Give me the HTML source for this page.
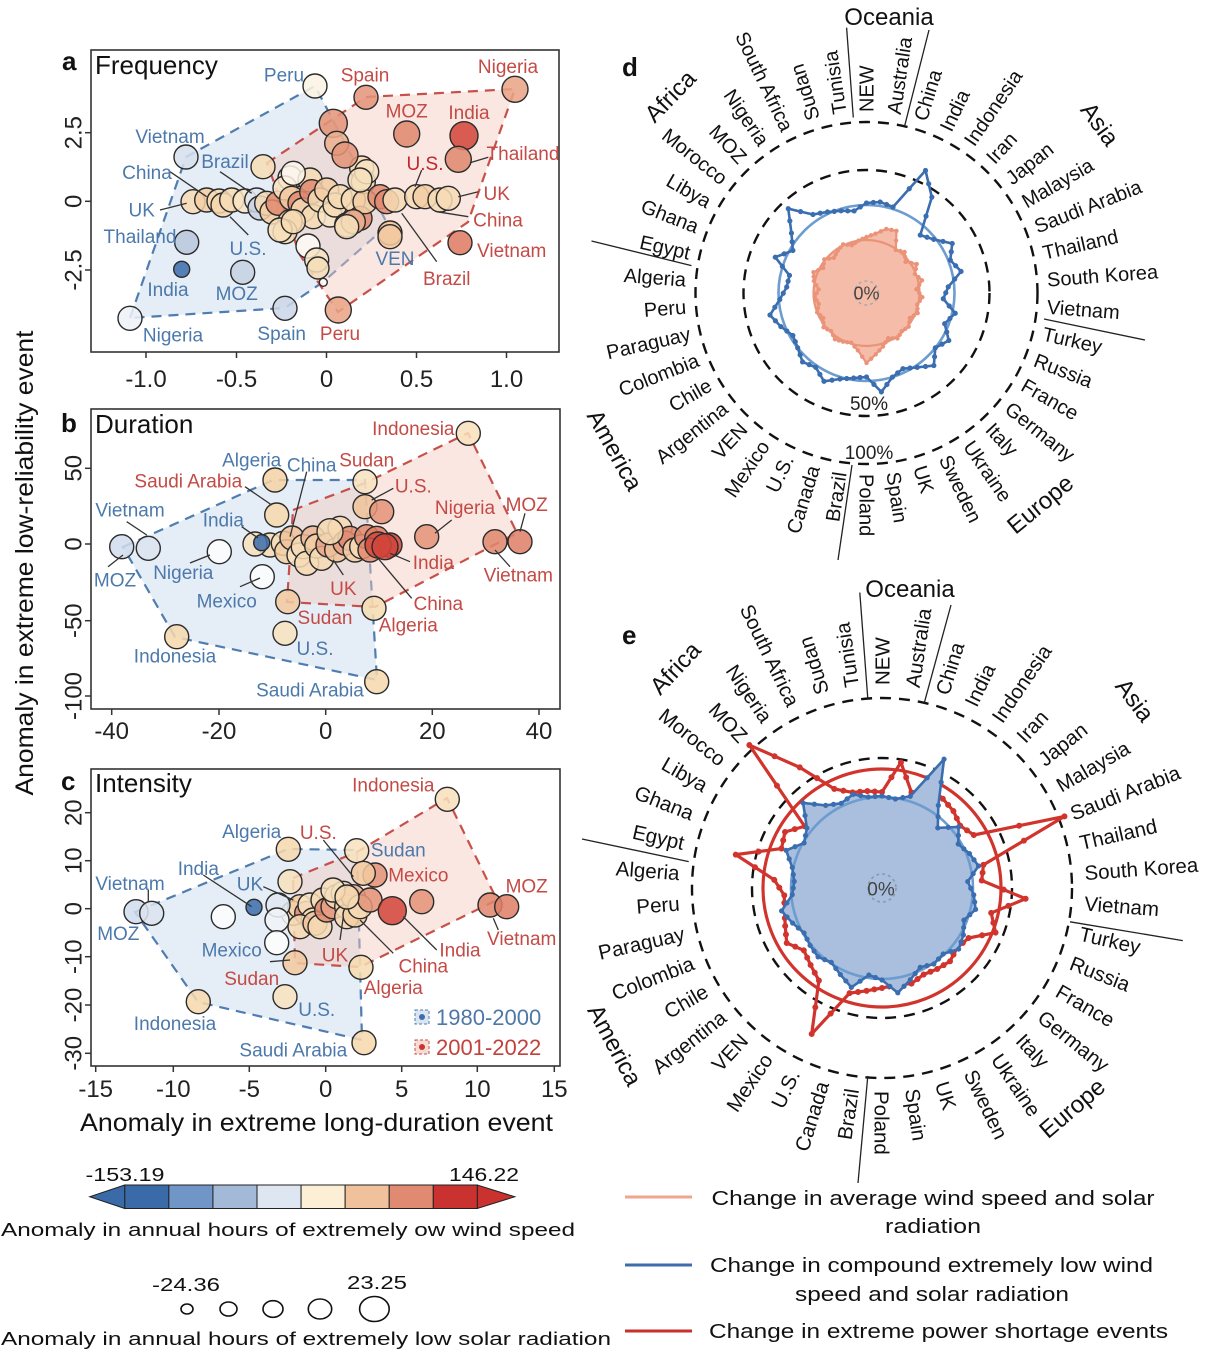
<!DOCTYPE html>
<html>
<head>
<meta charset="utf-8">
<style>
html,body{margin:0;padding:0;background:#fff;}
svg{display:block;}
text{font-family:"Liberation Sans",Arial,sans-serif;}
.tk{font-size:24px;fill:#222;}
.lb{font-size:19px;text-anchor:middle;}
.bl{fill:#4c79ab;}
.rd{fill:#c44a45;}
.pt circle{stroke:#2b2b2b;stroke-width:1.4;fill-opacity:.86;}
.ld line{stroke:#333;stroke-width:1.3;}
.cd{font-size:20px;fill:#111;}
.ce{font-size:20.5px;fill:#111;}
.rg{font-size:24px;fill:#111;text-anchor:middle;}
</style>
</head>
<body>
<svg width="1217" height="1363" viewBox="0 0 1217 1363" xmlns="http://www.w3.org/2000/svg">
<defs>
<marker id="mP" markerWidth="8" markerHeight="8" refX="4" refY="4" markerUnits="userSpaceOnUse"><circle cx="4" cy="4" r="2.2" fill="#eb9378"/></marker>
<marker id="mB" markerWidth="8" markerHeight="8" refX="4" refY="4" markerUnits="userSpaceOnUse"><circle cx="4" cy="4" r="2.6" fill="#3a6eb0"/></marker>
<marker id="mR" markerWidth="8" markerHeight="8" refX="4" refY="4" markerUnits="userSpaceOnUse"><circle cx="4" cy="4" r="3" fill="#d0342c"/></marker>
</defs>
<rect width="1217" height="1363" fill="#fff"/>

<!-- ================= PANEL A ================= -->
<polygon points="130,318 186,157 315,86 388,225 323,282 285,308" fill="#c5d6ea" fill-opacity=".45" stroke="#4f7db0" stroke-width="2.2" stroke-dasharray="10 7"/>
<polygon points="267,163 366,97 515,89 468,222 338,312 300,255" fill="#f3c9bf" fill-opacity=".45" stroke="#c9504a" stroke-width="2.2" stroke-dasharray="10 7"/>
<g class="pt">
<circle cx="193" cy="201.7" r="12" fill="#f6dbb4"/>
<circle cx="206.7" cy="200" r="12" fill="#f3cea4"/>
<circle cx="219" cy="201" r="12" fill="#f6dbb4"/>
<circle cx="223" cy="205" r="12" fill="#f4d5ae"/>
<circle cx="231.7" cy="200" r="12" fill="#f6dbb4"/>
<circle cx="245" cy="201" r="12" fill="#f8e4c4"/>
<circle cx="256.7" cy="200" r="12" fill="#dfe6f0"/>
<circle cx="260" cy="208" r="12" fill="#c8d3e4"/>
<circle cx="266.7" cy="203.3" r="12" fill="#f6dbb4"/>
<circle cx="272" cy="212" r="12" fill="#f3cea4"/>
<circle cx="278" cy="203.3" r="12" fill="#e28a70"/>
<circle cx="290" cy="178" r="12" fill="#fbf4ea"/>
<circle cx="285" cy="188" r="12" fill="#f8e4c4"/>
<circle cx="291.7" cy="198.3" r="12" fill="#f1c8a0"/>
<circle cx="300" cy="203.3" r="12" fill="#e28a70"/>
<circle cx="303" cy="210" r="12" fill="#f6dbb4"/>
<circle cx="310" cy="180" r="12" fill="#f6dbb4"/>
<circle cx="311.7" cy="191.7" r="12" fill="#e28a70"/>
<circle cx="313.3" cy="216.7" r="12" fill="#f6dbb4"/>
<circle cx="290" cy="221.7" r="12" fill="#f6dbb4"/>
<circle cx="285" cy="231.7" r="12" fill="#f6dbb4"/>
<circle cx="320" cy="200" r="12" fill="#f6dbb4"/>
<circle cx="326.7" cy="190" r="12" fill="#f3cea4"/>
<circle cx="330" cy="215" r="12" fill="#f8e4c4"/>
<circle cx="335" cy="205" r="12" fill="#f6dbb4"/>
<circle cx="340" cy="196.7" r="12" fill="#f6dbb4"/>
<circle cx="346.7" cy="225" r="12" fill="#eeb794"/>
<circle cx="353.3" cy="200" r="12" fill="#f6dbb4"/>
<circle cx="360" cy="218.3" r="12" fill="#e28a70"/>
<circle cx="361.7" cy="168" r="12" fill="#f6dbb4"/>
<circle cx="363.3" cy="181.7" r="12" fill="#f6dbb4"/>
<circle cx="365" cy="201.7" r="12" fill="#f3cea4"/>
<circle cx="380" cy="196.7" r="12" fill="#e28a70"/>
<circle cx="386.7" cy="201.7" r="12" fill="#e28a70"/>
<circle cx="395" cy="200" r="12" fill="#f6dbb4"/>
<circle cx="390" cy="233" r="12" fill="#f0c39b"/>
<circle cx="416.7" cy="196.7" r="12" fill="#f6dbb4"/>
<circle cx="425" cy="196.7" r="12" fill="#f3cea4"/>
<circle cx="440" cy="200" r="12" fill="#f6dbb4"/>
<circle cx="448.3" cy="198.3" r="12" fill="#f6dbb4"/>
</g>
<g class="pt">
<circle cx="315" cy="86" r="12" fill="#fbf3e3"/>
<circle cx="186" cy="157" r="12" fill="#d6e0ee"/>
<circle cx="186.7" cy="242.3" r="12" fill="#b9c7dd"/>
<circle cx="181.7" cy="269.3" r="8" fill="#3d6dac"/>
<circle cx="242.7" cy="272.3" r="12" fill="#c5d1e3"/>
<circle cx="130" cy="318.3" r="12" fill="#eef1f7"/>
<circle cx="285" cy="308.3" r="12" fill="#ccd6e6"/>
<circle cx="308" cy="246" r="12" fill="#fdfaf4"/>
<circle cx="316.7" cy="260" r="12" fill="#f6e3c4"/>
<circle cx="318" cy="268" r="11" fill="#f5deb9"/>
<circle cx="323.3" cy="282.3" r="4" fill="#fff"/>
<circle cx="366" cy="97.3" r="12" fill="#e39478"/>
<circle cx="515" cy="89.3" r="13" fill="#e9a385"/>
<circle cx="406.7" cy="134" r="13" fill="#e0876d"/>
<circle cx="464" cy="135.7" r="14" fill="#d2453a"/>
<circle cx="458.3" cy="159.3" r="13" fill="#e0876d"/>
<circle cx="460" cy="242.7" r="12" fill="#de7a62"/>
<circle cx="338.3" cy="310" r="13" fill="#e9a385"/>
<circle cx="333.3" cy="123.3" r="14" fill="#e39478"/>
<circle cx="336.7" cy="143.3" r="12" fill="#eab08f"/>
<circle cx="345" cy="155" r="13" fill="#e39478"/>
<circle cx="263" cy="166.7" r="12" fill="#f6dcb5"/>
<circle cx="293.3" cy="173.3" r="12" fill="#fbf4ea"/>
<circle cx="366.7" cy="171.7" r="12" fill="#f8e2bf"/>
<circle cx="360" cy="180" r="12" fill="#f7e1bd"/>
<circle cx="280" cy="230" r="12" fill="#f7deb8"/>
<circle cx="293.3" cy="221.7" r="12" fill="#f6dab2"/>
<circle cx="353.3" cy="221.7" r="12" fill="#eab08f"/>
<circle cx="346.7" cy="226.7" r="12" fill="#f7e1bd"/>
<circle cx="390" cy="236.7" r="12" fill="#f2c9a0"/>
</g>
<g class="ld">
<line x1="170" y1="171.7" x2="206.7" y2="196.7"/>
<line x1="220" y1="171.7" x2="251.7" y2="193.3"/>
<line x1="160" y1="210" x2="186.7" y2="203.3"/>
<line x1="248.3" y1="235" x2="230" y2="216.7"/>
<line x1="415" y1="186.7" x2="421.7" y2="170"/>
<line x1="470" y1="162.7" x2="488.3" y2="157.3"/>
<line x1="458.3" y1="196.7" x2="478.3" y2="191.7"/>
<line x1="436.7" y1="211.7" x2="468.3" y2="216.7"/>
<line x1="401.7" y1="213.3" x2="436.7" y2="261.7"/>
</g>
<g class="lb bl">
<text x="284" y="81.5">Peru</text>
<text x="170" y="143">Vietnam</text>
<text x="147" y="179">China</text>
<text x="225" y="168">Brazil</text>
<text x="141.7" y="216.5">UK</text>
<text x="140" y="243">Thailand</text>
<text x="248" y="255">U.S.</text>
<text x="168" y="296">India</text>
<text x="236.7" y="300">MOZ</text>
<text x="173" y="341.5">Nigeria</text>
<text x="281.7" y="340">Spain</text>
<text x="395" y="265">VEN</text>
</g>
<g class="lb rd">
<text x="365" y="81.5">Spain</text>
<text x="508" y="73">Nigeria</text>
<text x="406.7" y="117.5">MOZ</text>
<text x="469" y="119">India</text>
<text x="425" y="170" fill="#c0282d">U.S.</text>
<text x="523" y="160">Thailand</text>
<text x="496.7" y="200">UK</text>
<text x="498" y="226.5">China</text>
<text x="511.7" y="257">Vietnam</text>
<text x="446.7" y="285">Brazil</text>
<text x="340" y="340">Peru</text>
</g>
<rect x="91" y="50" width="468" height="302" fill="none" stroke="#333" stroke-width="1.6"/>
<g stroke="#333" stroke-width="1.5">
<line x1="146" y1="352" x2="146" y2="358"/><line x1="236.5" y1="352" x2="236.5" y2="358"/><line x1="326.5" y1="352" x2="326.5" y2="358"/><line x1="416.5" y1="352" x2="416.5" y2="358"/><line x1="506.5" y1="352" x2="506.5" y2="358"/>
<line x1="85" y1="132.7" x2="91" y2="132.7"/><line x1="85" y1="201.3" x2="91" y2="201.3"/><line x1="85" y1="270" x2="91" y2="270"/>
</g>
<g class="tk" text-anchor="middle">
<text x="146" y="387">-1.0</text><text x="236.5" y="387">-0.5</text><text x="326.5" y="387">0</text><text x="416.5" y="387">0.5</text><text x="506.5" y="387">1.0</text>
<text transform="translate(81.5,132.7) rotate(-90)">2.5</text>
<text transform="translate(81.5,201.3) rotate(-90)">0</text>
<text transform="translate(81.5,270) rotate(-90)">-2.5</text>
</g>
<text x="62" y="70" font-size="26" font-weight="bold" fill="#111">a</text>
<text x="95" y="74" font-size="26" fill="#111">Frequency</text>

<!-- ================= PANEL B ================= -->
<polygon points="123,547 273,480 365,480 377,680 175,637" fill="#c5d6ea" fill-opacity=".45" stroke="#4f7db0" stroke-width="2.2" stroke-dasharray="10 7"/>
<polygon points="293,510 365,483 468,433 517,533 375,607 287,602" fill="#f3c9bf" fill-opacity=".45" stroke="#c9504a" stroke-width="2.2" stroke-dasharray="10 7"/>
<g class="pt">
<circle cx="270" cy="545" r="12" fill="#f6dbb4"/>
<circle cx="283.3" cy="543.3" r="12" fill="#f6dbb4"/>
<circle cx="286.7" cy="551.7" r="12" fill="#f3cea4"/>
<circle cx="292" cy="538" r="12" fill="#f0c39b"/>
<circle cx="299" cy="555" r="12" fill="#f8e4c4"/>
<circle cx="303.3" cy="546.7" r="12" fill="#f6dbb4"/>
<circle cx="306.7" cy="563.3" r="12" fill="#f6dbb4"/>
<circle cx="313" cy="538" r="12" fill="#eeb794"/>
<circle cx="316.7" cy="546" r="12" fill="#f3cea4"/>
<circle cx="321.7" cy="558.3" r="12" fill="#f6dbb4"/>
<circle cx="328" cy="545" r="12" fill="#e9a388"/>
<circle cx="340" cy="528.3" r="12" fill="#f6dbb4"/>
<circle cx="336.7" cy="550" r="12" fill="#f0c39b"/>
<circle cx="345" cy="543" r="12" fill="#e8a084"/>
<circle cx="350" cy="538.3" r="12" fill="#e28a70"/>
<circle cx="355" cy="550" r="12" fill="#f3cea4"/>
<circle cx="361.7" cy="546.7" r="12" fill="#f6dbb4"/>
<circle cx="366.7" cy="536.7" r="12" fill="#e28a70"/>
<circle cx="376.7" cy="538.3" r="12" fill="#e07a62"/>
<circle cx="370" cy="550" r="12" fill="#e28a70"/>
<circle cx="390" cy="545" r="12" fill="#d2453a"/>
</g>
<g class="pt">
<circle cx="121.7" cy="546.7" r="12" fill="#d1dcec"/>
<circle cx="148.3" cy="548.3" r="12" fill="#dbe3ef"/>
<circle cx="219.3" cy="551.7" r="12" fill="#fdfdfd"/>
<circle cx="262.3" cy="576.7" r="12" fill="#fdfdfd"/>
<circle cx="176.7" cy="636.7" r="12" fill="#f6d9ae"/>
<circle cx="285" cy="633.3" r="12" fill="#f8e2bf"/>
<circle cx="376.7" cy="681.7" r="12" fill="#f6d9ae"/>
<circle cx="275" cy="480" r="12" fill="#f4d3a5"/>
<circle cx="365" cy="481.7" r="12" fill="#f8e2bf"/>
<circle cx="276.7" cy="515" r="12" fill="#f6d9ae"/>
<circle cx="468.3" cy="433.3" r="12" fill="#f8e0bb"/>
<circle cx="365" cy="506.7" r="12" fill="#f0c49a"/>
<circle cx="381.7" cy="511.7" r="12" fill="#e39478"/>
<circle cx="426.7" cy="536.7" r="12" fill="#e39478"/>
<circle cx="495" cy="541.7" r="12" fill="#e0876d"/>
<circle cx="520" cy="541.7" r="12" fill="#de7f66"/>
<circle cx="287.7" cy="601.7" r="12" fill="#f2c9a0"/>
<circle cx="374" cy="608.3" r="12" fill="#f6dcb1"/>
<circle cx="330" cy="531.7" r="13" fill="#f6dab2"/>
<circle cx="378" cy="545" r="13" fill="#d54a3c"/>
<circle cx="385" cy="546.7" r="13" fill="#d2453a"/>
<circle cx="255" cy="544" r="12" fill="#f7e1bd"/>
<circle cx="261.7" cy="542.7" r="8" fill="#3d6dac"/>
</g>
<g class="ld">
<line x1="126.7" y1="521.7" x2="146.7" y2="535"/>
<line x1="108" y1="566.7" x2="123" y2="555"/>
<line x1="190" y1="563" x2="210" y2="555"/>
<line x1="240" y1="586.7" x2="260" y2="578"/>
<line x1="241.7" y1="526.7" x2="258" y2="538"/>
<line x1="245" y1="486.7" x2="271.7" y2="505"/>
<line x1="306.7" y1="471.7" x2="290" y2="536.7"/>
<line x1="393.3" y1="488.3" x2="371.7" y2="500"/>
<line x1="451.7" y1="520" x2="435" y2="533.3"/>
<line x1="525" y1="513.3" x2="520" y2="531.7"/>
<line x1="510" y1="566.7" x2="495" y2="550"/>
<line x1="410" y1="561.7" x2="390" y2="553.3"/>
<line x1="343.3" y1="575" x2="333.3" y2="560"/>
<line x1="411.7" y1="598.3" x2="376.7" y2="556.7"/>
</g>
<g class="lb bl">
<text x="130" y="516.5">Vietnam</text>
<text x="115" y="586.5">MOZ</text>
<text x="183.3" y="579">Nigeria</text>
<text x="223.3" y="526.5">India</text>
<text x="251.7" y="466.5">Algeria</text>
<text x="311.7" y="471.5">China</text>
<text x="226.7" y="607.5">Mexico</text>
<text x="175" y="662.5">Indonesia</text>
<text x="315" y="655">U.S.</text>
<text x="310" y="696.5">Saudi Arabia</text>
</g>
<g class="lb rd">
<text x="413.3" y="435">Indonesia</text>
<text x="366.7" y="466.5">Sudan</text>
<text x="188.3" y="487.5">Saudi Arabia</text>
<text x="413.3" y="492.5">U.S.</text>
<text x="465" y="514">Nigeria</text>
<text x="526.7" y="511">MOZ</text>
<text x="433.3" y="569">India</text>
<text x="518.3" y="581.5">Vietnam</text>
<text x="343.3" y="595">UK</text>
<text x="438.3" y="610">China</text>
<text x="325" y="624">Sudan</text>
<text x="408.3" y="631.5">Algeria</text>
</g>
<rect x="91" y="409" width="469" height="300" fill="none" stroke="#333" stroke-width="1.6"/>
<g stroke="#333" stroke-width="1.5">
<line x1="111.7" y1="709" x2="111.7" y2="715"/><line x1="219" y1="709" x2="219" y2="715"/><line x1="325.7" y1="709" x2="325.7" y2="715"/><line x1="432.3" y1="709" x2="432.3" y2="715"/><line x1="539" y1="709" x2="539" y2="715"/>
<line x1="85" y1="468.3" x2="91" y2="468.3"/><line x1="85" y1="544" x2="91" y2="544"/><line x1="85" y1="620.7" x2="91" y2="620.7"/><line x1="85" y1="696" x2="91" y2="696"/>
</g>
<g class="tk" text-anchor="middle">
<text x="111.7" y="739">-40</text><text x="219" y="739">-20</text><text x="325.7" y="739">0</text><text x="432.3" y="739">20</text><text x="539" y="739">40</text>
<text transform="translate(81.5,468.3) rotate(-90)">50</text>
<text transform="translate(81.5,544) rotate(-90)">0</text>
<text transform="translate(81.5,620.7) rotate(-90)">-50</text>
<text transform="translate(81.5,696) rotate(-90)">-100</text>
</g>
<text x="61" y="432" font-size="26" font-weight="bold" fill="#111">b</text>
<text x="95" y="433" font-size="26" fill="#111">Duration</text>

<!-- ================= PANEL C ================= -->
<polygon points="135,912 288,849 357,850 362,1040 198,1002" fill="#c5d6ea" fill-opacity=".45" stroke="#4f7db0" stroke-width="2.2" stroke-dasharray="10 7"/>
<polygon points="293,878 357,852 447,798 497,900 360,967 295,963" fill="#f3c9bf" fill-opacity=".45" stroke="#c9504a" stroke-width="2.2" stroke-dasharray="10 7"/>
<g class="pt">
<circle cx="293.3" cy="913.3" r="12" fill="#f6dbb4"/>
<circle cx="300" cy="906.7" r="12" fill="#f3cea4"/>
<circle cx="306.7" cy="913.3" r="12" fill="#e28a70"/>
<circle cx="310" cy="905" r="12" fill="#f8e4c4"/>
<circle cx="313.3" cy="920" r="12" fill="#f6dbb4"/>
<circle cx="300" cy="926.7" r="12" fill="#f6dbb4"/>
<circle cx="315" cy="923.3" r="12" fill="#f0c39b"/>
<circle cx="320" cy="926.7" r="12" fill="#f6dbb4"/>
<circle cx="323" cy="900" r="12" fill="#f6dbb4"/>
<circle cx="326.7" cy="910" r="12" fill="#e28a70"/>
<circle cx="333" cy="906.7" r="12" fill="#e8a084"/>
<circle cx="336.7" cy="896.7" r="12" fill="#f6dbb4"/>
<circle cx="343.3" cy="893.3" r="12" fill="#f6dbb4"/>
<circle cx="346.7" cy="906.7" r="12" fill="#f6dbb4"/>
<circle cx="346.7" cy="916.7" r="12" fill="#f6dbb4"/>
<circle cx="353.3" cy="896.7" r="12" fill="#eeb794"/>
<circle cx="355" cy="915" r="12" fill="#f3cea4"/>
<circle cx="360" cy="906.7" r="12" fill="#f6dbb4"/>
</g>
<g class="pt">
<circle cx="136" cy="911.7" r="12" fill="#d1dcec"/>
<circle cx="151.7" cy="913.3" r="12" fill="#dbe3ef"/>
<circle cx="223.3" cy="916.7" r="12" fill="#fdfdfd"/>
<circle cx="278" cy="905" r="12" fill="#dfe6f0"/>
<circle cx="277" cy="920" r="12" fill="#f0f3f8"/>
<circle cx="276.7" cy="942.7" r="12" fill="#fdfdfd"/>
<circle cx="288.3" cy="849.3" r="12" fill="#f6d9ae"/>
<circle cx="356.7" cy="850.7" r="12" fill="#f8e2bf"/>
<circle cx="290" cy="881.7" r="12" fill="#f7e1bd"/>
<circle cx="198.3" cy="1001.7" r="12" fill="#f6d9ae"/>
<circle cx="285" cy="996.7" r="12" fill="#f8e2bf"/>
<circle cx="364" cy="1042.7" r="12" fill="#f6d9ae"/>
<circle cx="295" cy="962.7" r="12" fill="#f2c9a0"/>
<circle cx="361" cy="967.3" r="12" fill="#f6dcb1"/>
<circle cx="447.3" cy="799.3" r="12" fill="#f8e0bb"/>
<circle cx="375" cy="875" r="12" fill="#e39478"/>
<circle cx="363.3" cy="873.3" r="12" fill="#f2c9a0"/>
<circle cx="370" cy="900" r="12" fill="#e39478"/>
<circle cx="421.7" cy="901.7" r="12" fill="#e39478"/>
<circle cx="490" cy="905" r="12" fill="#e0876d"/>
<circle cx="506.7" cy="906.7" r="12" fill="#de7f66"/>
<circle cx="333" cy="890" r="12" fill="#f7e1bd"/>
<circle cx="347" cy="897" r="12" fill="#f6dab2"/>
<circle cx="392.3" cy="910.7" r="14" fill="#d2453a"/>
<circle cx="254" cy="907.3" r="8" fill="#3d6dac"/>
</g>
<g class="ld">
<line x1="148.3" y1="890" x2="148.3" y2="901.7"/>
<line x1="203.3" y1="875" x2="251.7" y2="906.7"/>
<line x1="263.3" y1="886.7" x2="293.3" y2="900"/>
<line x1="323.3" y1="840" x2="353.3" y2="876.7"/>
<line x1="436.7" y1="950" x2="403.3" y2="916.7"/>
<line x1="393.3" y1="953.3" x2="360" y2="920"/>
<line x1="340" y1="940" x2="343.3" y2="916.7"/>
<line x1="270" y1="961.7" x2="290" y2="960"/>
<line x1="493.3" y1="918.3" x2="498.3" y2="930"/>
</g>
<g class="lb bl">
<text x="130" y="890">Vietnam</text>
<text x="118.3" y="940">MOZ</text>
<text x="198.3" y="875">India</text>
<text x="251.7" y="838">Algeria</text>
<text x="250" y="890.5">UK</text>
<text x="398.3" y="856.5">Sudan</text>
<text x="231.7" y="956.5">Mexico</text>
<text x="175" y="1030">Indonesia</text>
<text x="316.7" y="1016">U.S.</text>
<text x="293.3" y="1056.5">Saudi Arabia</text>
</g>
<g class="lb rd">
<text x="393.3" y="791.5">Indonesia</text>
<text x="318.3" y="839">U.S.</text>
<text x="418.3" y="881.5">Mexico</text>
<text x="526.7" y="892.5">MOZ</text>
<text x="521.7" y="945">Vietnam</text>
<text x="460" y="956.5">India</text>
<text x="423.3" y="972.5">China</text>
<text x="335" y="961.5">UK</text>
<text x="251.7" y="985">Sudan</text>
<text x="393.3" y="994">Algeria</text>
</g>
<rect x="415" y="1010" width="14" height="14" fill="#dbe5f1" stroke="#4f7db0" stroke-width="1" stroke-dasharray="3 2"/>
<circle cx="422" cy="1017" r="3" fill="#3d6dac"/>
<text x="436" y="1025" font-size="22" fill="#4f78a8">1980-2000</text>
<rect x="415" y="1040" width="14" height="14" fill="#f7dcd6" stroke="#c9504a" stroke-width="1" stroke-dasharray="3 2"/>
<circle cx="422" cy="1047" r="3" fill="#cc3430"/>
<text x="436" y="1055" font-size="22" fill="#c2413c">2001-2022</text>
<rect x="91" y="769" width="469" height="297" fill="none" stroke="#333" stroke-width="1.6"/>
<g stroke="#333" stroke-width="1.5">
<line x1="95.7" y1="1066" x2="95.7" y2="1072"/><line x1="173.3" y1="1066" x2="173.3" y2="1072"/><line x1="249.3" y1="1066" x2="249.3" y2="1072"/><line x1="325.7" y1="1066" x2="325.7" y2="1072"/><line x1="401.7" y1="1066" x2="401.7" y2="1072"/><line x1="477.3" y1="1066" x2="477.3" y2="1072"/><line x1="554.3" y1="1066" x2="554.3" y2="1072"/>
<line x1="85" y1="812.7" x2="91" y2="812.7"/><line x1="85" y1="860.7" x2="91" y2="860.7"/><line x1="85" y1="908.7" x2="91" y2="908.7"/><line x1="85" y1="956.7" x2="91" y2="956.7"/><line x1="85" y1="1005" x2="91" y2="1005"/><line x1="85" y1="1053.3" x2="91" y2="1053.3"/>
</g>
<g class="tk" text-anchor="middle">
<text x="95.7" y="1097">-15</text><text x="173.3" y="1097">-10</text><text x="249.3" y="1097">-5</text><text x="325.7" y="1097">0</text><text x="401.7" y="1097">5</text><text x="477.3" y="1097">10</text><text x="554.3" y="1097">15</text>
<text transform="translate(81.5,812.7) rotate(-90)">20</text>
<text transform="translate(81.5,860.7) rotate(-90)">10</text>
<text transform="translate(81.5,908.7) rotate(-90)">0</text>
<text transform="translate(81.5,956.7) rotate(-90)">-10</text>
<text transform="translate(81.5,1005) rotate(-90)">-20</text>
<text transform="translate(81.5,1053.3) rotate(-90)">-30</text>
</g>
<text x="61" y="790" font-size="26" font-weight="bold" fill="#111">c</text>
<text x="95" y="792" font-size="26" fill="#111">Intensity</text>

<!-- axis titles -->
<text x="80" y="1131" font-size="25" fill="#111" textLength="473" lengthAdjust="spacingAndGlyphs">Anomaly in extreme long-duration event</text>
<text transform="translate(33,563) rotate(-90)" font-size="25" fill="#111" text-anchor="middle" textLength="465" lengthAdjust="spacingAndGlyphs">Anomaly in extreme low-reliability event</text>

<!-- ================= LEFT LEGENDS ================= -->
<g stroke="#222" stroke-width="1">
<polygon points="124.8,1185 124.8,1208.5 89.7,1196.75" fill="#3b6aa9"/>
<rect x="124.8" y="1185" width="44.07" height="23.5" fill="#3b6aa9"/>
<rect x="168.87" y="1185" width="44.07" height="23.5" fill="#6f96c6"/>
<rect x="212.94" y="1185" width="44.07" height="23.5" fill="#a3b9d8"/>
<rect x="257.01" y="1185" width="44.07" height="23.5" fill="#dde6f1"/>
<rect x="301.08" y="1185" width="44.07" height="23.5" fill="#fcefd6"/>
<rect x="345.15" y="1185" width="44.07" height="23.5" fill="#efc29b"/>
<rect x="389.22" y="1185" width="44.07" height="23.5" fill="#e08a72"/>
<rect x="433.29" y="1185" width="44.07" height="23.5" fill="#c9322e"/>
<polygon points="477.36,1185 477.36,1208.5 514.8,1196.75" fill="#c9322e"/>
</g>
<text x="125" y="1181" font-size="18" fill="#111" text-anchor="middle" textLength="79" lengthAdjust="spacingAndGlyphs">-153.19</text>
<text x="484" y="1181" font-size="18" fill="#111" text-anchor="middle" textLength="70" lengthAdjust="spacingAndGlyphs">146.22</text>
<text x="1" y="1236" font-size="18.5" fill="#111" textLength="574" lengthAdjust="spacingAndGlyphs">Anomaly in annual hours of extremely ow wind speed</text>
<text x="186" y="1291" font-size="18" fill="#111" text-anchor="middle" textLength="68" lengthAdjust="spacingAndGlyphs">-24.36</text>
<text x="377" y="1289" font-size="18" fill="#111" text-anchor="middle" textLength="60" lengthAdjust="spacingAndGlyphs">23.25</text>
<g fill="none" stroke="#111" stroke-width="1.6">
<ellipse cx="187" cy="1309" rx="6" ry="5"/>
<ellipse cx="228.5" cy="1309" rx="8.5" ry="7"/>
<ellipse cx="273" cy="1309" rx="10" ry="8.3"/>
<ellipse cx="320" cy="1309" rx="11.7" ry="10"/>
<ellipse cx="374.4" cy="1309" rx="14.8" ry="12.5"/>
</g>
<text x="1" y="1345" font-size="18.5" fill="#111" textLength="610" lengthAdjust="spacingAndGlyphs">Anomaly in annual hours of extremely low solar radiation</text>

<!-- ================= RIGHT LEGEND ================= -->
<line x1="625" y1="1197" x2="692" y2="1197" stroke="#f0a58c" stroke-width="3"/>
<line x1="625" y1="1265" x2="692" y2="1265" stroke="#3e6eaa" stroke-width="3"/>
<line x1="625" y1="1331" x2="692" y2="1331" stroke="#c8302c" stroke-width="3"/>
<g font-size="20" fill="#111" text-anchor="middle">
<text x="933" y="1205" textLength="443" lengthAdjust="spacingAndGlyphs">Change in average wind speed and solar</text>
<text x="933" y="1233" textLength="96" lengthAdjust="spacingAndGlyphs">radiation</text>
<text x="931.5" y="1272" textLength="443" lengthAdjust="spacingAndGlyphs">Change in compound extremely low wind</text>
<text x="932" y="1301" textLength="274" lengthAdjust="spacingAndGlyphs">speed and solar radiation</text>
<text x="938.5" y="1338" textLength="459" lengthAdjust="spacingAndGlyphs">Change in extreme power shortage events</text>
</g>

<!-- ================= RADAR D GEOMETRY ================= -->
<g transform="translate(866.5,293)">
<circle r="171" fill="none" stroke="#111" stroke-width="2.4" stroke-dasharray="11 8"/>
<circle r="123" fill="none" stroke="#111" stroke-width="2.4" stroke-dasharray="11 8"/>
<circle r="53" fill="#f4bca9"/>
<g fill="#f4bca9" stroke="#f4bca9" stroke-width="1" stroke-linejoin="round">
<path transform="rotate(0)" d="M0,0V-56L8.94,-59.33Z"/>
<path transform="rotate(8.571)" d="M0,0V-60L9.99,-66.25Z"/>
<path transform="rotate(17.143)" d="M0,0V-67L10.28,-68.23Z"/>
<path transform="rotate(25.714)" d="M0,0V-69L7.75,-51.42Z"/>
<path transform="rotate(34.286)" d="M0,0V-52L8.35,-55.37Z"/>
<path transform="rotate(42.857)" d="M0,0V-56L7.45,-49.44Z"/>
<path transform="rotate(51.429)" d="M0,0V-50L8.64,-57.35Z"/>
<path transform="rotate(60)" d="M0,0V-58L7.75,-51.42Z"/>
<path transform="rotate(68.571)" d="M0,0V-52L8.5,-56.36Z"/>
<path transform="rotate(77.143)" d="M0,0V-57L7.45,-49.44Z"/>
<path transform="rotate(85.714)" d="M0,0V-50L8.35,-55.37Z"/>
<path transform="rotate(94.286)" d="M0,0V-56L7.75,-51.42Z"/>
<path transform="rotate(102.857)" d="M0,0V-52L8.2,-54.39Z"/>
<path transform="rotate(111.429)" d="M0,0V-55L7.45,-49.44Z"/>
<path transform="rotate(120)" d="M0,0V-50L8.05,-53.4Z"/>
<path transform="rotate(128.571)" d="M0,0V-54L7.75,-51.42Z"/>
<path transform="rotate(137.143)" d="M0,0V-52L8.2,-54.39Z"/>
<path transform="rotate(145.714)" d="M0,0V-55L7.45,-49.44Z"/>
<path transform="rotate(154.286)" d="M0,0V-50L8.35,-55.37Z"/>
<path transform="rotate(162.857)" d="M0,0V-56L9.24,-61.31Z"/>
<path transform="rotate(171.429)" d="M0,0V-62L10.43,-69.22Z"/>
<path transform="rotate(180)" d="M0,0V-70L8.64,-57.35Z"/>
<path transform="rotate(188.571)" d="M0,0V-58L7.75,-51.42Z"/>
<path transform="rotate(197.143)" d="M0,0V-52L8.05,-53.4Z"/>
<path transform="rotate(205.714)" d="M0,0V-54L8.35,-55.37Z"/>
<path transform="rotate(214.286)" d="M0,0V-56L7.75,-51.42Z"/>
<path transform="rotate(222.857)" d="M0,0V-52L8.2,-54.39Z"/>
<path transform="rotate(231.429)" d="M0,0V-55L7.45,-49.44Z"/>
<path transform="rotate(240)" d="M0,0V-50L7.9,-52.41Z"/>
<path transform="rotate(248.571)" d="M0,0V-53L7.3,-48.45Z"/>
<path transform="rotate(257.143)" d="M0,0V-49L7.75,-51.42Z"/>
<path transform="rotate(265.714)" d="M0,0V-52L7.15,-47.46Z"/>
<path transform="rotate(274.286)" d="M0,0V-48L8.05,-53.4Z"/>
<path transform="rotate(282.857)" d="M0,0V-54L8.5,-56.36Z"/>
<path transform="rotate(291.429)" d="M0,0V-57L7.45,-49.44Z"/>
<path transform="rotate(300)" d="M0,0V-50L8.05,-53.4Z"/>
<path transform="rotate(308.571)" d="M0,0V-54L7.15,-47.46Z"/>
<path transform="rotate(317.143)" d="M0,0V-48L7.6,-50.43Z"/>
<path transform="rotate(325.714)" d="M0,0V-51L8.05,-53.4Z"/>
<path transform="rotate(334.286)" d="M0,0V-54L7.45,-49.44Z"/>
<path transform="rotate(342.857)" d="M0,0V-50L7.9,-52.41Z"/>
<path transform="rotate(351.429)" d="M0,0V-53L8.35,-55.37Z"/>
</g>
<circle r="53" fill="none" stroke="#eb9378" stroke-width="2.2"/>
<g fill="none" stroke="#eb9378" stroke-width="2.2" stroke-linecap="round" stroke-linejoin="round" marker-start="url(#mP)" marker-mid="url(#mP)">
<path transform="rotate(0)" d="M0,-56L4.47,-57.67L8.94,-59.33"/>
<path transform="rotate(8.571)" d="M0,-60L4.99,-63.13L9.99,-66.25"/>
<path transform="rotate(17.143)" d="M0,-67L5.14,-67.62L10.28,-68.23"/>
<path transform="rotate(25.714)" d="M0,-69L3.88,-60.21L7.75,-51.42"/>
<path transform="rotate(34.286)" d="M0,-52L4.17,-53.69L8.35,-55.37"/>
<path transform="rotate(42.857)" d="M0,-56L3.73,-52.72L7.45,-49.44"/>
<path transform="rotate(51.429)" d="M0,-50L4.32,-53.68L8.64,-57.35"/>
<path transform="rotate(60)" d="M0,-58L3.88,-54.71L7.75,-51.42"/>
<path transform="rotate(68.571)" d="M0,-52L4.25,-54.18L8.5,-56.36"/>
<path transform="rotate(77.143)" d="M0,-57L3.73,-53.22L7.45,-49.44"/>
<path transform="rotate(85.714)" d="M0,-50L4.17,-52.69L8.35,-55.37"/>
<path transform="rotate(94.286)" d="M0,-56L3.88,-53.71L7.75,-51.42"/>
<path transform="rotate(102.857)" d="M0,-52L4.1,-53.2L8.2,-54.39"/>
<path transform="rotate(111.429)" d="M0,-55L3.73,-52.22L7.45,-49.44"/>
<path transform="rotate(120)" d="M0,-50L4.02,-51.7L8.05,-53.4"/>
<path transform="rotate(128.571)" d="M0,-54L3.88,-52.71L7.75,-51.42"/>
<path transform="rotate(137.143)" d="M0,-52L4.1,-53.2L8.2,-54.39"/>
<path transform="rotate(145.714)" d="M0,-55L3.73,-52.22L7.45,-49.44"/>
<path transform="rotate(154.286)" d="M0,-50L4.17,-52.69L8.35,-55.37"/>
<path transform="rotate(162.857)" d="M0,-56L4.62,-58.66L9.24,-61.31"/>
<path transform="rotate(171.429)" d="M0,-62L5.22,-65.61L10.43,-69.22"/>
<path transform="rotate(180)" d="M0,-70L4.32,-63.68L8.64,-57.35"/>
<path transform="rotate(188.571)" d="M0,-58L3.88,-54.71L7.75,-51.42"/>
<path transform="rotate(197.143)" d="M0,-52L4.02,-52.7L8.05,-53.4"/>
<path transform="rotate(205.714)" d="M0,-54L4.17,-54.69L8.35,-55.37"/>
<path transform="rotate(214.286)" d="M0,-56L3.88,-53.71L7.75,-51.42"/>
<path transform="rotate(222.857)" d="M0,-52L4.1,-53.2L8.2,-54.39"/>
<path transform="rotate(231.429)" d="M0,-55L3.73,-52.22L7.45,-49.44"/>
<path transform="rotate(240)" d="M0,-50L3.95,-51.21L7.9,-52.41"/>
<path transform="rotate(248.571)" d="M0,-53L3.65,-50.73L7.3,-48.45"/>
<path transform="rotate(257.143)" d="M0,-49L3.88,-50.21L7.75,-51.42"/>
<path transform="rotate(265.714)" d="M0,-52L3.58,-49.73L7.15,-47.46"/>
<path transform="rotate(274.286)" d="M0,-48L4.02,-50.7L8.05,-53.4"/>
<path transform="rotate(282.857)" d="M0,-54L4.25,-55.18L8.5,-56.36"/>
<path transform="rotate(291.429)" d="M0,-57L3.73,-53.22L7.45,-49.44"/>
<path transform="rotate(300)" d="M0,-50L4.02,-51.7L8.05,-53.4"/>
<path transform="rotate(308.571)" d="M0,-54L3.58,-50.73L7.15,-47.46"/>
<path transform="rotate(317.143)" d="M0,-48L3.8,-49.22L7.6,-50.43"/>
<path transform="rotate(325.714)" d="M0,-51L4.02,-52.2L8.05,-53.4"/>
<path transform="rotate(334.286)" d="M0,-54L3.73,-51.72L7.45,-49.44"/>
<path transform="rotate(342.857)" d="M0,-50L3.95,-51.21L7.9,-52.41"/>
<path transform="rotate(351.429)" d="M0,-53L4.17,-54.19L8.35,-55.37"/>
</g>
<circle r="88" fill="none" stroke="#6d9cd0" stroke-width="2.6"/>
<g fill="none" stroke="#3a6eb0" stroke-width="2.6" stroke-linecap="round" stroke-linejoin="round" marker-start="url(#mB)" marker-mid="url(#mB)">
<path transform="rotate(0)" d="M0,-90L6.86,-90.49L13.71,-90.97"/>
<path transform="rotate(8.571)" d="M0,-92L6.71,-90.5L13.41,-88.99"/>
<path transform="rotate(17.143)" d="M0,-90L10.13,-112.24L20.27,-134.48"/>
<path transform="rotate(25.714)" d="M0,-136L8.64,-125.35L17.29,-114.7"/>
<path transform="rotate(34.286)" d="M0,-116L5.89,-97.06L11.77,-78.12"/>
<path transform="rotate(42.857)" d="M0,-79L6.41,-82.02L12.82,-85.04"/>
<path transform="rotate(51.429)" d="M0,-86L7.38,-91.95L14.76,-97.89"/>
<path transform="rotate(60)" d="M0,-99L6.71,-94L13.41,-88.99"/>
<path transform="rotate(68.571)" d="M0,-90L7.23,-92.96L14.46,-95.92"/>
<path transform="rotate(77.143)" d="M0,-97L6.11,-89.04L12.22,-81.08"/>
<path transform="rotate(85.714)" d="M0,-82L5.74,-79.07L11.48,-76.14"/>
<path transform="rotate(94.286)" d="M0,-77L6.78,-83.49L13.56,-89.98"/>
<path transform="rotate(102.857)" d="M0,-91L6.26,-87.03L12.52,-83.06"/>
<path transform="rotate(111.429)" d="M0,-84L7.08,-88.97L14.16,-93.94"/>
<path transform="rotate(120)" d="M0,-95L6.56,-91.01L13.12,-87.02"/>
<path transform="rotate(128.571)" d="M0,-88L7.38,-92.95L14.76,-97.89"/>
<path transform="rotate(137.143)" d="M0,-99L6.71,-94L13.41,-88.99"/>
<path transform="rotate(145.714)" d="M0,-90L6.26,-86.53L12.52,-83.06"/>
<path transform="rotate(154.286)" d="M0,-84L6.56,-85.51L13.12,-87.02"/>
<path transform="rotate(162.857)" d="M0,-88L7.45,-93.44L14.9,-98.88"/>
<path transform="rotate(171.429)" d="M0,-100L6.26,-91.53L12.52,-83.06"/>
<path transform="rotate(180)" d="M0,-84L6.41,-84.52L12.82,-85.04"/>
<path transform="rotate(188.571)" d="M0,-86L6.71,-87.5L13.41,-88.99"/>
<path transform="rotate(197.143)" d="M0,-90L7.3,-93.46L14.61,-96.91"/>
<path transform="rotate(205.714)" d="M0,-98L6.71,-93.5L13.41,-88.99"/>
<path transform="rotate(214.286)" d="M0,-90L7.01,-91.48L14.01,-92.95"/>
<path transform="rotate(222.857)" d="M0,-94L6.56,-90.51L13.12,-87.02"/>
<path transform="rotate(231.429)" d="M0,-88L6.33,-86.03L12.67,-84.05"/>
<path transform="rotate(240)" d="M0,-85L6.86,-87.99L13.71,-90.97"/>
<path transform="rotate(248.571)" d="M0,-92L7.38,-94.95L14.76,-97.89"/>
<path transform="rotate(257.143)" d="M0,-99L6.48,-92.52L12.97,-86.03"/>
<path transform="rotate(265.714)" d="M0,-87L5.96,-83.06L11.92,-79.11"/>
<path transform="rotate(274.286)" d="M0,-80L5.89,-79.06L11.77,-78.12"/>
<path transform="rotate(282.857)" d="M0,-79L7.3,-87.96L14.61,-96.91"/>
<path transform="rotate(291.429)" d="M0,-98L6.33,-91.03L12.67,-84.05"/>
<path transform="rotate(300)" d="M0,-85L7.15,-89.97L14.31,-94.93"/>
<path transform="rotate(308.571)" d="M0,-96L8.57,-104.86L17.14,-113.72"/>
<path transform="rotate(317.143)" d="M0,-115L7.08,-104.47L14.16,-93.94"/>
<path transform="rotate(325.714)" d="M0,-95L6.71,-92L13.41,-88.99"/>
<path transform="rotate(334.286)" d="M0,-90L6.41,-87.52L12.82,-85.04"/>
<path transform="rotate(342.857)" d="M0,-86L6.19,-84.04L12.37,-82.07"/>
<path transform="rotate(351.429)" d="M0,-83L6.71,-86L13.41,-88.99"/>
</g>
<circle r="12" fill="none" stroke="#aaa" stroke-width="1.5" stroke-dasharray="3 3"/>
</g>
<g stroke="#222" stroke-width="1.3">
<line x1="853.3" y1="117.5" x2="846.6" y2="27.7"/>
<line x1="904.8" y1="125.3" x2="929" y2="30"/>
<line x1="1044" y1="319" x2="1145" y2="340"/>
<line x1="852" y1="465" x2="838" y2="560"/>
<line x1="691.5" y1="265.6" x2="591.5" y2="241"/>
</g>
<text x="869" y="410" font-size="19" fill="#222" text-anchor="middle">50%</text>
<text x="869" y="459" font-size="19" fill="#222" text-anchor="middle">100%</text>
<text x="866.5" y="299.5" font-size="18" fill="#444" text-anchor="middle">0%</text>
<g class="cd" text-anchor="start">
<text x="1047.5" y="293" dy="0.36em" transform="rotate(-90 866.5 293)">NEW</text>
<text x="1047.5" y="293" dy="0.36em" transform="rotate(-81.43 866.5 293)">Australia</text>
<text x="1047.5" y="293" dy="0.36em" transform="rotate(-72.86 866.5 293)">China</text>
<text x="1047.5" y="293" dy="0.36em" transform="rotate(-64.29 866.5 293)">India</text>
<text x="1047.5" y="293" dy="0.36em" transform="rotate(-55.71 866.5 293)">Indonesia</text>
<text x="1047.5" y="293" dy="0.36em" transform="rotate(-47.14 866.5 293)">Iran</text>
<text x="1047.5" y="293" dy="0.36em" transform="rotate(-38.57 866.5 293)">Japan</text>
<text x="1047.5" y="293" dy="0.36em" transform="rotate(-30 866.5 293)">Malaysia</text>
<text x="1047.5" y="293" dy="0.36em" transform="rotate(-21.43 866.5 293)">Saudi Arabia</text>
<text x="1047.5" y="293" dy="0.36em" transform="rotate(-12.86 866.5 293)">Thailand</text>
<text x="1047.5" y="293" dy="0.36em" transform="rotate(-4.29 866.5 293)">South Korea</text>
<text x="1047.5" y="293" dy="0.36em" transform="rotate(4.29 866.5 293)">Vietnam</text>
<text x="1047.5" y="293" dy="0.36em" transform="rotate(12.86 866.5 293)">Turkey</text>
<text x="1047.5" y="293" dy="0.36em" transform="rotate(21.43 866.5 293)">Russia</text>
<text x="1047.5" y="293" dy="0.36em" transform="rotate(30 866.5 293)">France</text>
<text x="1047.5" y="293" dy="0.36em" transform="rotate(38.57 866.5 293)">Germany</text>
<text x="1047.5" y="293" dy="0.36em" transform="rotate(47.14 866.5 293)">Italy</text>
<text x="1047.5" y="293" dy="0.36em" transform="rotate(55.71 866.5 293)">Ukraine</text>
<text x="1047.5" y="293" dy="0.36em" transform="rotate(64.29 866.5 293)">Sweden</text>
<text x="1047.5" y="293" dy="0.36em" transform="rotate(72.86 866.5 293)">UK</text>
<text x="1047.5" y="293" dy="0.36em" transform="rotate(81.43 866.5 293)">Spain</text>
<text x="1047.5" y="293" dy="0.36em" transform="rotate(90 866.5 293)">Poland</text>
<text x="1047.5" y="293" dy="0.36em" transform="rotate(252.86 866.5 293)">Sudan</text>
<text x="1047.5" y="293" dy="0.36em" transform="rotate(261.43 866.5 293)">Tunisia</text>
</g>
<g class="cd" text-anchor="end">
<text x="685.5" y="293" dy="0.36em" transform="rotate(-81.43 866.5 293)">Brazil</text>
<text x="685.5" y="293" dy="0.36em" transform="rotate(-72.86 866.5 293)">Canada</text>
<text x="685.5" y="293" dy="0.36em" transform="rotate(-64.29 866.5 293)">U.S.</text>
<text x="685.5" y="293" dy="0.36em" transform="rotate(-55.71 866.5 293)">Mexico</text>
<text x="685.5" y="293" dy="0.36em" transform="rotate(-47.14 866.5 293)">VEN</text>
<text x="685.5" y="293" dy="0.36em" transform="rotate(-38.57 866.5 293)">Argentina</text>
<text x="685.5" y="293" dy="0.36em" transform="rotate(-30 866.5 293)">Chile</text>
<text x="685.5" y="293" dy="0.36em" transform="rotate(-21.43 866.5 293)">Colombia</text>
<text x="685.5" y="293" dy="0.36em" transform="rotate(-12.86 866.5 293)">Paraguay</text>
<text x="685.5" y="293" dy="0.36em" transform="rotate(-4.29 866.5 293)">Peru</text>
<text x="685.5" y="293" dy="0.36em" transform="rotate(4.29 866.5 293)">Algeria</text>
<text x="685.5" y="293" dy="0.36em" transform="rotate(12.86 866.5 293)">Egypt</text>
<text x="685.5" y="293" dy="0.36em" transform="rotate(21.43 866.5 293)">Ghana</text>
<text x="685.5" y="293" dy="0.36em" transform="rotate(30 866.5 293)">Libya</text>
<text x="685.5" y="293" dy="0.36em" transform="rotate(38.57 866.5 293)">Morocco</text>
<text x="685.5" y="293" dy="0.36em" transform="rotate(47.14 866.5 293)">MOZ</text>
<text x="685.5" y="293" dy="0.36em" transform="rotate(55.71 866.5 293)">Nigeria</text>
<text x="685.5" y="293" dy="0.36em" transform="rotate(64.29 866.5 293)">South Africa</text>
</g>
<text x="889" y="25" class="rg">Oceania</text>
<text class="rg" dy="0.35em" transform="translate(1100,124) rotate(54)">Asia</text>
<text class="rg" dy="0.35em" transform="translate(1040,504) rotate(-39.5)">Europe</text>
<text class="rg" dy="0.35em" transform="translate(615,450) rotate(61)">America</text>
<text class="rg" dy="0.35em" transform="translate(670,96) rotate(-46)">Africa</text>
<text x="622" y="76" font-size="26" font-weight="bold" fill="#111">d</text>

<!-- ================= RADAR E GEOMETRY ================= -->
<g transform="translate(882,888)">
<circle r="190" fill="none" stroke="#111" stroke-width="2.4" stroke-dasharray="11 8"/>
<circle r="130" fill="none" stroke="#111" stroke-width="2.4" stroke-dasharray="11 8"/>
<circle r="119" fill="none" stroke="#d0342c" stroke-width="3.2"/>
<g fill="none" stroke="#d0342c" stroke-width="3.2" stroke-linecap="round" stroke-linejoin="round" marker-start="url(#mR)" marker-mid="url(#mR)">
<path transform="rotate(0)" d="M0,-96L9.46,-110.79L18.93,-125.58"/>
<path transform="rotate(8.571)" d="M0,-127L7.45,-112.94L14.9,-98.88"/>
<path transform="rotate(17.143)" d="M0,-100L8.35,-105.38L16.69,-110.75"/>
<path transform="rotate(25.714)" d="M0,-112L8.05,-109.4L16.1,-106.79"/>
<path transform="rotate(34.286)" d="M0,-108L7.82,-105.92L15.65,-103.83"/>
<path transform="rotate(42.857)" d="M0,-105L7.45,-101.94L14.9,-98.88"/>
<path transform="rotate(51.429)" d="M0,-100L7.9,-102.41L15.8,-104.82"/>
<path transform="rotate(60)" d="M0,-106L14.61,-149.91L29.21,-193.81"/>
<path transform="rotate(68.571)" d="M0,-196L7.75,-149.42L15.5,-102.84"/>
<path transform="rotate(77.143)" d="M0,-104L7.45,-101.44L14.9,-98.88"/>
<path transform="rotate(85.714)" d="M0,-100L10.73,-121.2L21.46,-142.39"/>
<path transform="rotate(94.286)" d="M0,-144L8.35,-127.38L16.69,-110.75"/>
<path transform="rotate(102.857)" d="M0,-112L9.09,-116.32L18.18,-120.64"/>
<path transform="rotate(111.429)" d="M0,-122L7.45,-110.44L14.9,-98.88"/>
<path transform="rotate(120)" d="M0,-100L7.15,-97.47L14.31,-94.93"/>
<path transform="rotate(128.571)" d="M0,-96L7.45,-97.44L14.9,-98.88"/>
<path transform="rotate(137.143)" d="M0,-100L7.3,-98.46L14.61,-96.91"/>
<path transform="rotate(145.714)" d="M0,-98L7.15,-96.47L14.31,-94.93"/>
<path transform="rotate(154.286)" d="M0,-96L7.45,-97.44L14.9,-98.88"/>
<path transform="rotate(162.857)" d="M0,-100L7.3,-98.46L14.61,-96.91"/>
<path transform="rotate(171.429)" d="M0,-98L7.45,-98.44L14.9,-98.88"/>
<path transform="rotate(180)" d="M0,-100L7.75,-101.42L15.5,-102.84"/>
<path transform="rotate(188.571)" d="M0,-104L8.2,-106.39L16.39,-108.77"/>
<path transform="rotate(197.143)" d="M0,-110L12.07,-135.1L24.14,-160.19"/>
<path transform="rotate(205.714)" d="M0,-162L8.35,-136.38L16.69,-110.75"/>
<path transform="rotate(214.286)" d="M0,-112L7.82,-107.92L15.65,-103.83"/>
<path transform="rotate(222.857)" d="M0,-105L7.45,-101.94L14.9,-98.88"/>
<path transform="rotate(231.429)" d="M0,-100L8.2,-104.39L16.39,-108.77"/>
<path transform="rotate(240)" d="M0,-110L7.75,-106.42L15.5,-102.84"/>
<path transform="rotate(248.571)" d="M0,-104L7.45,-101.44L14.9,-98.88"/>
<path transform="rotate(257.143)" d="M0,-100L7.3,-98.46L14.61,-96.91"/>
<path transform="rotate(265.714)" d="M0,-98L8.05,-102.4L16.1,-106.79"/>
<path transform="rotate(274.286)" d="M0,-108L11.18,-128.16L22.36,-148.32"/>
<path transform="rotate(282.857)" d="M0,-150L8.05,-128.4L16.1,-106.79"/>
<path transform="rotate(291.429)" d="M0,-108L8.35,-109.38L16.69,-110.75"/>
<path transform="rotate(300)" d="M0,-112L7.38,-104.95L14.76,-97.89"/>
<path transform="rotate(308.571)" d="M0,-99L14.53,-145.91L29.06,-192.82"/>
<path transform="rotate(317.143)" d="M0,-195L10.88,-169.69L21.76,-144.37"/>
<path transform="rotate(325.714)" d="M0,-146L8.2,-127.39L16.39,-108.77"/>
<path transform="rotate(334.286)" d="M0,-110L7.45,-104.44L14.9,-98.88"/>
<path transform="rotate(342.857)" d="M0,-100L7.3,-98.46L14.61,-96.91"/>
<path transform="rotate(351.429)" d="M0,-98L7.15,-96.47L14.31,-94.93"/>
</g>
<circle r="84" fill="#a9bfdd"/>
<g fill="#a9bfdd" stroke="#a9bfdd" stroke-width="1" stroke-linejoin="round">
<path transform="rotate(0)" d="M0,0V-92L13.41,-88.99Z"/>
<path transform="rotate(8.571)" d="M0,0V-90L14.31,-94.93Z"/>
<path transform="rotate(17.143)" d="M0,0V-96L21.31,-141.4Z"/>
<path transform="rotate(25.714)" d="M0,0V-143L14.9,-98.88Z"/>
<path transform="rotate(34.286)" d="M0,0V-100L12.22,-81.08Z"/>
<path transform="rotate(42.857)" d="M0,0V-82L14.61,-96.91Z"/>
<path transform="rotate(51.429)" d="M0,0V-98L13.12,-87.02Z"/>
<path transform="rotate(60)" d="M0,0V-88L14.01,-92.95Z"/>
<path transform="rotate(68.571)" d="M0,0V-94L14.76,-97.89Z"/>
<path transform="rotate(77.143)" d="M0,0V-99L12.82,-85.04Z"/>
<path transform="rotate(85.714)" d="M0,0V-86L13.71,-90.97Z"/>
<path transform="rotate(94.286)" d="M0,0V-92L14.31,-94.93Z"/>
<path transform="rotate(102.857)" d="M0,0V-96L13.12,-87.02Z"/>
<path transform="rotate(111.429)" d="M0,0V-88L14.01,-92.95Z"/>
<path transform="rotate(120)" d="M0,0V-94L14.61,-96.91Z"/>
<path transform="rotate(128.571)" d="M0,0V-98L13.41,-88.99Z"/>
<path transform="rotate(137.143)" d="M0,0V-90L13.71,-90.97Z"/>
<path transform="rotate(145.714)" d="M0,0V-92L13.12,-87.02Z"/>
<path transform="rotate(154.286)" d="M0,0V-88L14.31,-94.93Z"/>
<path transform="rotate(162.857)" d="M0,0V-96L15.8,-104.82Z"/>
<path transform="rotate(171.429)" d="M0,0V-106L13.71,-90.97Z"/>
<path transform="rotate(180)" d="M0,0V-92L13.12,-87.02Z"/>
<path transform="rotate(188.571)" d="M0,0V-88L15.5,-102.84Z"/>
<path transform="rotate(197.143)" d="M0,0V-104L14.31,-94.93Z"/>
<path transform="rotate(205.714)" d="M0,0V-96L13.41,-88.99Z"/>
<path transform="rotate(214.286)" d="M0,0V-90L14.01,-92.95Z"/>
<path transform="rotate(222.857)" d="M0,0V-94L13.71,-90.97Z"/>
<path transform="rotate(231.429)" d="M0,0V-92L13.41,-88.99Z"/>
<path transform="rotate(240)" d="M0,0V-90L14.31,-94.93Z"/>
<path transform="rotate(248.571)" d="M0,0V-96L15.35,-101.85Z"/>
<path transform="rotate(257.143)" d="M0,0V-103L13.41,-88.99Z"/>
<path transform="rotate(265.714)" d="M0,0V-90L13.12,-87.02Z"/>
<path transform="rotate(274.286)" d="M0,0V-88L13.71,-90.97Z"/>
<path transform="rotate(282.857)" d="M0,0V-92L15.35,-101.85Z"/>
<path transform="rotate(291.429)" d="M0,0V-103L13.41,-88.99Z"/>
<path transform="rotate(300)" d="M0,0V-90L14.31,-94.93Z"/>
<path transform="rotate(308.571)" d="M0,0V-96L17.29,-114.7Z"/>
<path transform="rotate(317.143)" d="M0,0V-116L14.9,-98.88Z"/>
<path transform="rotate(325.714)" d="M0,0V-100L14.01,-92.95Z"/>
<path transform="rotate(334.286)" d="M0,0V-94L14.61,-96.91Z"/>
<path transform="rotate(342.857)" d="M0,0V-98L13.71,-90.97Z"/>
<path transform="rotate(351.429)" d="M0,0V-92L13.71,-90.97Z"/>
</g>
<circle r="91" fill="none" stroke="#6d9cd0" stroke-width="2.6"/>
<g fill="none" stroke="#3a6eb0" stroke-width="2.6" stroke-linecap="round" stroke-linejoin="round" marker-start="url(#mB)" marker-mid="url(#mB)">
<path transform="rotate(0)" d="M0,-92L6.71,-90.5L13.41,-88.99"/>
<path transform="rotate(8.571)" d="M0,-90L7.15,-92.47L14.31,-94.93"/>
<path transform="rotate(17.143)" d="M0,-96L10.66,-118.7L21.31,-141.4"/>
<path transform="rotate(25.714)" d="M0,-143L7.45,-120.94L14.9,-98.88"/>
<path transform="rotate(34.286)" d="M0,-100L6.11,-90.54L12.22,-81.08"/>
<path transform="rotate(42.857)" d="M0,-82L7.3,-89.46L14.61,-96.91"/>
<path transform="rotate(51.429)" d="M0,-98L6.56,-92.51L13.12,-87.02"/>
<path transform="rotate(60)" d="M0,-88L7.01,-90.48L14.01,-92.95"/>
<path transform="rotate(68.571)" d="M0,-94L7.38,-95.95L14.76,-97.89"/>
<path transform="rotate(77.143)" d="M0,-99L6.41,-92.02L12.82,-85.04"/>
<path transform="rotate(85.714)" d="M0,-86L6.86,-88.49L13.71,-90.97"/>
<path transform="rotate(94.286)" d="M0,-92L7.15,-93.47L14.31,-94.93"/>
<path transform="rotate(102.857)" d="M0,-96L6.56,-91.51L13.12,-87.02"/>
<path transform="rotate(111.429)" d="M0,-88L7.01,-90.48L14.01,-92.95"/>
<path transform="rotate(120)" d="M0,-94L7.3,-95.46L14.61,-96.91"/>
<path transform="rotate(128.571)" d="M0,-98L6.71,-93.5L13.41,-88.99"/>
<path transform="rotate(137.143)" d="M0,-90L6.86,-90.49L13.71,-90.97"/>
<path transform="rotate(145.714)" d="M0,-92L6.56,-89.51L13.12,-87.02"/>
<path transform="rotate(154.286)" d="M0,-88L7.15,-91.47L14.31,-94.93"/>
<path transform="rotate(162.857)" d="M0,-96L7.9,-100.41L15.8,-104.82"/>
<path transform="rotate(171.429)" d="M0,-106L6.86,-98.49L13.71,-90.97"/>
<path transform="rotate(180)" d="M0,-92L6.56,-89.51L13.12,-87.02"/>
<path transform="rotate(188.571)" d="M0,-88L7.75,-95.42L15.5,-102.84"/>
<path transform="rotate(197.143)" d="M0,-104L7.15,-99.47L14.31,-94.93"/>
<path transform="rotate(205.714)" d="M0,-96L6.71,-92.5L13.41,-88.99"/>
<path transform="rotate(214.286)" d="M0,-90L7.01,-91.48L14.01,-92.95"/>
<path transform="rotate(222.857)" d="M0,-94L6.86,-92.49L13.71,-90.97"/>
<path transform="rotate(231.429)" d="M0,-92L6.71,-90.5L13.41,-88.99"/>
<path transform="rotate(240)" d="M0,-90L7.15,-92.47L14.31,-94.93"/>
<path transform="rotate(248.571)" d="M0,-96L7.68,-98.93L15.35,-101.85"/>
<path transform="rotate(257.143)" d="M0,-103L6.71,-96L13.41,-88.99"/>
<path transform="rotate(265.714)" d="M0,-90L6.56,-88.51L13.12,-87.02"/>
<path transform="rotate(274.286)" d="M0,-88L6.86,-89.49L13.71,-90.97"/>
<path transform="rotate(282.857)" d="M0,-92L7.68,-96.93L15.35,-101.85"/>
<path transform="rotate(291.429)" d="M0,-103L6.71,-96L13.41,-88.99"/>
<path transform="rotate(300)" d="M0,-90L7.15,-92.47L14.31,-94.93"/>
<path transform="rotate(308.571)" d="M0,-96L8.64,-105.35L17.29,-114.7"/>
<path transform="rotate(317.143)" d="M0,-116L7.45,-107.44L14.9,-98.88"/>
<path transform="rotate(325.714)" d="M0,-100L7.01,-96.48L14.01,-92.95"/>
<path transform="rotate(334.286)" d="M0,-94L7.3,-95.46L14.61,-96.91"/>
<path transform="rotate(342.857)" d="M0,-98L6.86,-94.49L13.71,-90.97"/>
<path transform="rotate(351.429)" d="M0,-92L6.86,-91.49L13.71,-90.97"/>
</g>
<circle r="14" fill="none" stroke="#8a97a8" stroke-width="1.5" stroke-dasharray="3 3"/>
</g>
<g stroke="#222" stroke-width="1.3">
<line x1="867.8" y1="698.5" x2="859.8" y2="592.6"/>
<line x1="924.3" y1="702.8" x2="951" y2="605"/>
<line x1="1070" y1="921.8" x2="1182.8" y2="940.6"/>
<line x1="867.8" y1="1076" x2="858" y2="1183"/>
<line x1="688.7" y1="861.6" x2="582" y2="839"/>
</g>
<text x="881" y="895.5" font-size="19" fill="#444" text-anchor="middle">0%</text>
<g class="ce" text-anchor="start">
<text x="1085" y="888" dy="0.36em" transform="rotate(-90 882 888)">NEW</text>
<text x="1085" y="888" dy="0.36em" transform="rotate(-81.43 882 888)">Australia</text>
<text x="1085" y="888" dy="0.36em" transform="rotate(-72.86 882 888)">China</text>
<text x="1085" y="888" dy="0.36em" transform="rotate(-64.29 882 888)">India</text>
<text x="1085" y="888" dy="0.36em" transform="rotate(-55.71 882 888)">Indonesia</text>
<text x="1085" y="888" dy="0.36em" transform="rotate(-47.14 882 888)">Iran</text>
<text x="1085" y="888" dy="0.36em" transform="rotate(-38.57 882 888)">Japan</text>
<text x="1085" y="888" dy="0.36em" transform="rotate(-30 882 888)">Malaysia</text>
<text x="1085" y="888" dy="0.36em" transform="rotate(-21.43 882 888)">Saudi Arabia</text>
<text x="1085" y="888" dy="0.36em" transform="rotate(-12.86 882 888)">Thailand</text>
<text x="1085" y="888" dy="0.36em" transform="rotate(-4.29 882 888)">South Korea</text>
<text x="1085" y="888" dy="0.36em" transform="rotate(4.29 882 888)">Vietnam</text>
<text x="1085" y="888" dy="0.36em" transform="rotate(12.86 882 888)">Turkey</text>
<text x="1085" y="888" dy="0.36em" transform="rotate(21.43 882 888)">Russia</text>
<text x="1085" y="888" dy="0.36em" transform="rotate(30 882 888)">France</text>
<text x="1085" y="888" dy="0.36em" transform="rotate(38.57 882 888)">Germany</text>
<text x="1085" y="888" dy="0.36em" transform="rotate(47.14 882 888)">Italy</text>
<text x="1085" y="888" dy="0.36em" transform="rotate(55.71 882 888)">Ukraine</text>
<text x="1085" y="888" dy="0.36em" transform="rotate(64.29 882 888)">Sweden</text>
<text x="1085" y="888" dy="0.36em" transform="rotate(72.86 882 888)">UK</text>
<text x="1085" y="888" dy="0.36em" transform="rotate(81.43 882 888)">Spain</text>
<text x="1085" y="888" dy="0.36em" transform="rotate(90 882 888)">Poland</text>
<text x="1085" y="888" dy="0.36em" transform="rotate(252.86 882 888)">Sudan</text>
<text x="1085" y="888" dy="0.36em" transform="rotate(261.43 882 888)">Tunisia</text>
</g>
<g class="ce" text-anchor="end">
<text x="679" y="888" dy="0.36em" transform="rotate(-81.43 882 888)">Brazil</text>
<text x="679" y="888" dy="0.36em" transform="rotate(-72.86 882 888)">Canada</text>
<text x="679" y="888" dy="0.36em" transform="rotate(-64.29 882 888)">U.S.</text>
<text x="679" y="888" dy="0.36em" transform="rotate(-55.71 882 888)">Mexico</text>
<text x="679" y="888" dy="0.36em" transform="rotate(-47.14 882 888)">VEN</text>
<text x="679" y="888" dy="0.36em" transform="rotate(-38.57 882 888)">Argentina</text>
<text x="679" y="888" dy="0.36em" transform="rotate(-30 882 888)">Chile</text>
<text x="679" y="888" dy="0.36em" transform="rotate(-21.43 882 888)">Colombia</text>
<text x="679" y="888" dy="0.36em" transform="rotate(-12.86 882 888)">Paraguay</text>
<text x="679" y="888" dy="0.36em" transform="rotate(-4.29 882 888)">Peru</text>
<text x="679" y="888" dy="0.36em" transform="rotate(4.29 882 888)">Algeria</text>
<text x="679" y="888" dy="0.36em" transform="rotate(12.86 882 888)">Egypt</text>
<text x="679" y="888" dy="0.36em" transform="rotate(21.43 882 888)">Ghana</text>
<text x="679" y="888" dy="0.36em" transform="rotate(30 882 888)">Libya</text>
<text x="679" y="888" dy="0.36em" transform="rotate(38.57 882 888)">Morocco</text>
<text x="679" y="888" dy="0.36em" transform="rotate(47.14 882 888)">MOZ</text>
<text x="679" y="888" dy="0.36em" transform="rotate(55.71 882 888)">Nigeria</text>
<text x="679" y="888" dy="0.36em" transform="rotate(64.29 882 888)">South Africa</text>
</g>
<text x="910" y="597" class="rg">Oceania</text>
<text class="rg" dy="0.35em" transform="translate(1135,700) rotate(53)">Asia</text>
<text class="rg" dy="0.35em" transform="translate(1072,1108) rotate(-40.5)">Europe</text>
<text class="rg" dy="0.35em" transform="translate(615,1045) rotate(62)">America</text>
<text class="rg" dy="0.35em" transform="translate(675,668) rotate(-47)">Africa</text>
<text x="622" y="644" font-size="26" font-weight="bold" fill="#111">e</text>
</svg>
</body>
</html>
